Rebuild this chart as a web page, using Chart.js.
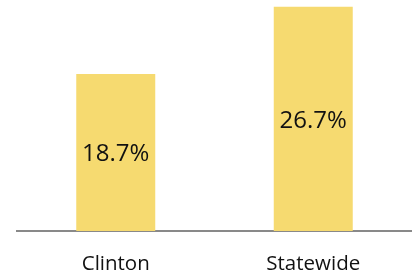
<!DOCTYPE html>
<html>
<head>
<meta charset="utf-8">
<script src="https://cdn.jsdelivr.net/npm/chart.js@4"></script>
<style>
  html, body { margin: 0; padding: 0; background: #fff; }
  #wrap { width: 412px; height: 274px; }
</style>
</head>
<body>
<div id="wrap"><canvas id="chart"></canvas></div>
<script>
// Chart data
const categories = ['Clinton', 'Statewide'];
const shares = [18.7, 26.7];
const valueLabels = ['18.7%', '26.7%'];

// Draws the value text in the middle of each bar
const barLabels = {
    id: 'barLabels',
    afterDatasetsDraw(chart) {
        const ctx = chart.ctx;
        const meta = chart.getDatasetMeta(0);
        ctx.save();
        ctx.font = '24px "Open Sans"';
        ctx.fillStyle = '#111';
        ctx.textAlign = 'center';
        ctx.textBaseline = 'middle';
        meta.data.forEach((bar, i) => {
            const mid = (bar.y + bar.base) / 2;
            ctx.fillText(valueLabels[i], bar.x, mid + 2);
        });
        ctx.restore();
    }
};

new Chart(document.getElementById('chart').getContext('2d'), {
    type: 'bar',
    data: {
        labels: categories,
        datasets: [{
            data: shares,
            backgroundColor: '#F6DA70',
            categoryPercentage: 1,
            barPercentage: 0.4
        }]
    },
    options: {
        responsive: true,
        maintainAspectRatio: false,
        animation: false,
        layout: { padding: { left: 17, right: 0, top: 0, bottom: 0 } },
        plugins: {
            legend: { display: false },
            tooltip: { enabled: false }
        },
        scales: {
            x: {
                grid: { display: false, drawTicks: false },
                border: { display: true, color: '#898989', width: 2 },
                ticks: {
                    color: '#111',
                    font: { family: 'Open Sans', size: 20.5 },
                    padding: 21
                },
                afterFit(scale) {
                    scale.height = 43;
                }
            },
            y: {
                display: false,
                min: 0,
                max: 27.5
            }
        }
    },
    plugins: [barLabels]
});
</script>
</body>
</html>
